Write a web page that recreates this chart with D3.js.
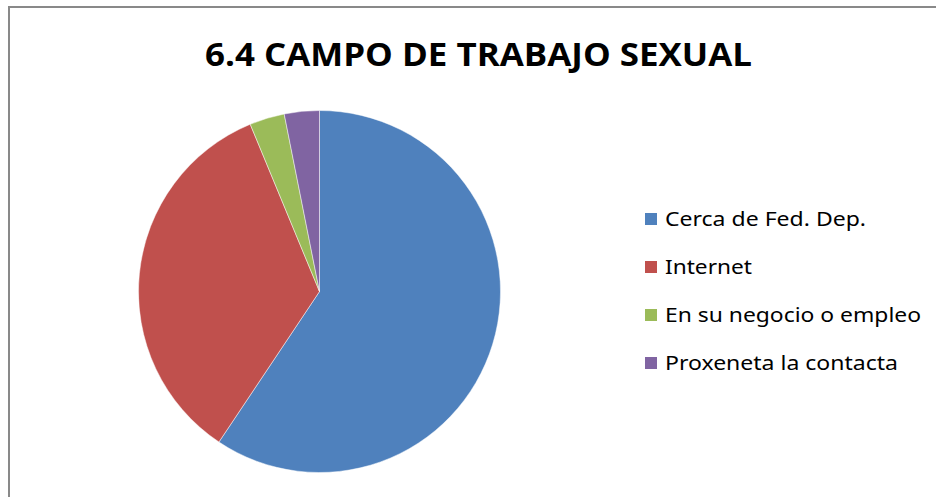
<!DOCTYPE html>
<meta charset="utf-8">
<style>
body { margin: 0; background: #fff; }
svg { display: block; }
.title { font-family: "Open Sans", "Noto Sans", sans-serif; font-weight: bold; fill: #000; }
.legend text { font-family: "Noto Sans", "Open Sans", sans-serif; fill: #000; }
</style>
<svg width="936" height="497"></svg>
<script src="https://cdn.jsdelivr.net/npm/d3@7"></script>
<script>

var categories = ["Cerca de Fed. Dep.", "Internet", "En su negocio o empleo", "Proxeneta la contacta"];
var values = [19, 11, 1, 1];
var colours = ["#4F81BD", "#C0504D", "#9BBB59", "#8064A2"];
var labelWidths = [201, 87, 256, 233];

var svg = d3.select("svg"),
    width = +svg.attr("width"),
    height = +svg.attr("height");

svg.append("rect")
    .attr("x", 9).attr("y", 7)
    .attr("width", width).attr("height", height)
    .attr("fill", "#fff")
    .attr("stroke", "#898989")
    .attr("stroke-width", 2);

svg.append("text")
    .attr("class", "title")
    .attr("x", 205)
    .attr("y", 65.5)
    .attr("font-size", 32)
    .attr("textLength", 547)
    .attr("lengthAdjust", "spacingAndGlyphs")
    .text("6.4 CAMPO DE TRABAJO SEXUAL");

var colour = d3.scaleOrdinal().domain(categories).range(colours);

var data = categories.map(function (c, i) { return {name: c, value: values[i]}; });

var pie = d3.pie().sort(null).value(function (d) { return d.value; });
var arc = d3.arc().innerRadius(0).outerRadius(181);

var g = svg.append("g").attr("transform", "translate(319.5,291.5)");

g.selectAll("path")
    .data(pie(data))
    .enter()
    .append("path")
    .attr("d", arc)
    .attr("fill", function (d) { return colour(d.data.name); })
    .attr("stroke", "#fff")
    .attr("stroke-opacity", 0.6)
    .attr("stroke-width", 0.8);

var y = d3.scalePoint().domain(categories).range([219, 363]);

var legend = svg.append("g").attr("class", "legend")
    .selectAll("g")
    .data(categories)
    .enter()
    .append("g")
    .attr("transform", function (d) { return "translate(645," + y(d) + ")"; });

legend.append("rect")
    .attr("x", 0).attr("y", -6)
    .attr("width", 12).attr("height", 12)
    .attr("fill", function (d) { return colour(d); });

legend.append("text")
    .attr("x", 20)
    .attr("y", 7)
    .attr("font-size", 19)
    .attr("textLength", function (d, i) { return labelWidths[i]; })
    .attr("lengthAdjust", "spacingAndGlyphs")
    .text(function (d) { return d; });

</script>
